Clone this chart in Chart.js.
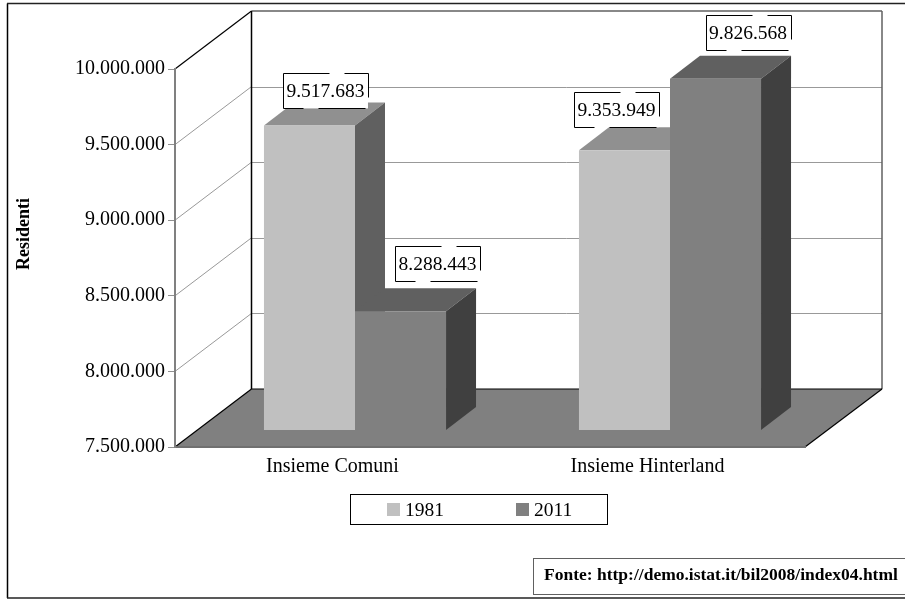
<!DOCTYPE html>
<html>
<head>
<meta charset="utf-8">
<title>Residenti</title>
<script src="https://cdn.jsdelivr.net/npm/chart.js@4"></script>
<style>
html, body { margin: 0; padding: 0; background: #fff; overflow: hidden; }
canvas { display: block; }
</style>
</head>
<body>
<canvas id="myChart" width="905" height="599"></canvas>
<script>
const categories = ['Insieme Comuni', 'Insieme Hinterland'];
const years = ['1981', '2011'];
const values1981 = [9517683, 9353949];
const values2011 = [8288443, 9826568];
const axisMin = 7500000;
const axisMax = 10000000;
const axisStep = 500000;
const sourceText = 'Fonte: http://demo.istat.it/bil2008/index04.html';
const axisTitle = 'Residenti';

const frontColors = ['#c0c0c0', '#808080'];
const topColors = ['#909090', '#606060'];
const sideColors = ['#606060', '#404040'];

const SERIF = '"Liberation Serif", "Times New Roman", serif';
const wallDepth = { x: 76.5, y: 58 };   // floor/wall depth
const barShift = { x: 22.5, y: 16.5 };  // bars stand inside the floor
const barDepth = { x: 30, y: 23 };
const wallRight = 882;
// hand placed label boxes, relative to the top left corner of each bar
const labelOffsets = [[[19, -52], [-5, -58]], [[40, -65], [35.5, -64]]];

function dots(v) {
    return String(v).replace(/\B(?=(\d{3})+$)/g, '.');
}

function line(ctx, x1, y1, x2, y2, color, width) {
    ctx.strokeStyle = color;
    ctx.lineWidth = width || 1;
    ctx.beginPath();
    ctx.moveTo(x1, y1);
    ctx.lineTo(x2, y2);
    ctx.stroke();
}

function poly(ctx, pts, color) {
    ctx.fillStyle = color;
    ctx.beginPath();
    pts.forEach((p, i) => { i ? ctx.lineTo(p[0], p[1]) : ctx.moveTo(p[0], p[1]); });
    ctx.closePath();
    ctx.fill();
}

function labelBox(ctx, x, y, text) {
    const w = 85, h = 35;
    ctx.fillStyle = '#fff';
    ctx.fillRect(x, y, w, h);
    const px = Math.round(x) + 0.5, py = Math.round(y) + 0.5;
    line(ctx, px, py, px, py + h, '#000');
    line(ctx, px + w, py, px + w, py + 24, '#000');
    line(ctx, px, py, px + 46, py, '#000');
    line(ctx, px + 61, py, px + w, py, '#000');
    line(ctx, px, py + h, px + 20, py + h, '#000');
    line(ctx, px + 35, py + h, px + 82, py + h, '#000');
    ctx.fillStyle = '#000';
    ctx.font = '19.5px ' + SERIF;
    ctx.textAlign = 'center';
    ctx.textBaseline = 'alphabetic';
    ctx.fillText(text, x + w / 2, y + 24);
}

const scene3d = {
    id: 'scene3d',
    // walls, floor and frame go behind the scales
    beforeDraw(chart) {
        const ctx = chart.ctx;
        const y = chart.scales.y;
        const a = chart.chartArea;
        const bx = a.left + wallDepth.x;
        ctx.save();
        ctx.fillStyle = '#fff';
        ctx.fillRect(0, 0, chart.width, chart.height);

        // outer frame
        line(ctx, 7.5, 3.5, 7.5, 598, '#000', 1.5);
        line(ctx, 7, 3.5, 905, 3.5, '#222', 1.5);
        line(ctx, 7, 598, 905, 598, '#222', 1.5);

        // floor
        poly(ctx, [[a.left, a.bottom], [bx, a.bottom - wallDepth.y], [wallRight, a.bottom - wallDepth.y], [a.right, a.bottom]], '#808080');

        // grid on side wall and back wall
        for (let v = axisMin + axisStep; v < axisMax; v += axisStep) {
            const py = y.getPixelForValue(v);
            line(ctx, a.left, py, bx, py - wallDepth.y, '#999');
            line(ctx, bx, Math.round(py - wallDepth.y) + 0.5, wallRight, Math.round(py - wallDepth.y) + 0.5, '#999');
        }
        const topY = a.top - wallDepth.y, floorY = a.bottom - wallDepth.y;
        line(ctx, bx, topY, wallRight, topY, '#606060', 1.5);
        line(ctx, wallRight, topY, wallRight, floorY, '#606060', 1.5);
        line(ctx, a.left, a.top, bx, topY, '#000', 1.2);
        line(ctx, bx, topY, bx, floorY, '#000', 1.5);
        line(ctx, bx, floorY, wallRight, floorY, '#000', 1.2);
        line(ctx, a.left, a.bottom, bx, floorY, '#000', 1.2);
        line(ctx, a.right, a.bottom, wallRight, floorY, '#000', 1.2);

        // axis title
        ctx.translate(24, 234);
        ctx.rotate(-Math.PI / 2);
        ctx.fillStyle = '#000';
        ctx.font = 'bold 18px ' + SERIF;
        ctx.textAlign = 'center';
        ctx.textBaseline = 'middle';
        ctx.fillText(axisTitle, 0, 0);
        ctx.restore();
    },
    // the library draws last dataset first, here 2011 has to sit over 1981
    beforeDatasetsDraw(chart) {
        const ctx = chart.ctx;
        ctx.save();
        ctx.translate(barShift.x, -barShift.y);
        chart.data.datasets.forEach((ds, i) => {
            const meta = chart.getDatasetMeta(i);
            meta.data.forEach((el) => {
                const x0 = el.x - el.width / 2, x1 = el.x + el.width / 2;
                const dx = barDepth.x, dy = barDepth.y;
                poly(ctx, [[x0, el.y], [x1, el.y], [x1 + dx, el.y - dy], [x0 + dx, el.y - dy]], topColors[i]);
                poly(ctx, [[x1, el.y], [x1 + dx, el.y - dy], [x1 + dx, el.base - dy], [x1, el.base]], sideColors[i]);
            });
            meta.controller.draw();
        });
        ctx.restore();
        return false;
    },
    afterDraw(chart) {
        const ctx = chart.ctx;
        ctx.save();
        chart.data.datasets.forEach((ds, i) => {
            chart.getDatasetMeta(i).data.forEach((el, j) => {
                const left = el.x - el.width / 2 + barShift.x;
                const top = el.y - barShift.y;
                labelBox(ctx, left + labelOffsets[i][j][0], top + labelOffsets[i][j][1], dots(ds.data[j]));
            });
        });

        // legend box
        ctx.fillStyle = '#fff';
        ctx.fillRect(350.5, 494.5, 257, 30);
        ctx.strokeStyle = '#000';
        ctx.lineWidth = 1;
        ctx.strokeRect(350.5, 494.5, 257, 30);
        ctx.font = '19.5px ' + SERIF;
        ctx.textAlign = 'left';
        ctx.textBaseline = 'alphabetic';
        [387, 516].forEach((x, i) => {
            ctx.fillStyle = chart.data.datasets[i].backgroundColor;
            ctx.fillRect(x, 503, 13, 13);
            ctx.fillStyle = '#000';
            ctx.fillText(chart.data.datasets[i].label, x + 18, 516);
        });

        // source box
        ctx.fillStyle = '#fff';
        ctx.fillRect(533.5, 558.5, 380, 36);
        ctx.strokeStyle = '#606060';
        ctx.strokeRect(533.5, 558.5, 380, 36);
        ctx.fillStyle = '#000';
        ctx.font = 'bold 17.5px ' + SERIF;
        ctx.fillText(sourceText, 544, 580);
        ctx.restore();
    }
};

const config = {
    type: 'bar',
    data: {
        labels: categories,
        datasets: [
            { label: years[0], data: values1981, backgroundColor: frontColors[0], base: axisMin },
            { label: years[1], data: values2011, backgroundColor: frontColors[1], base: axisMin }
        ]
    },
    options: {
        responsive: false,
        animation: false,
        categoryPercentage: 0.578,
        barPercentage: 1,
        layout: { padding: { left: 8, right: 100, top: 69, bottom: 0 } },
        plugins: { legend: { display: false }, tooltip: { enabled: false }, title: { display: false } },
        scales: {
            x: {
                afterFit: (scale) => { scale.height = 152; },
                grid: { display: true, drawOnChartArea: false, drawTicks: false },
                border: { color: '#707070', width: 2 },
                ticks: { color: '#000', font: { family: SERIF, size: 20 }, padding: 8, maxRotation: 0 }
            },
            y: {
                min: axisMin,
                max: axisMax,
                afterFit: (scale) => { scale.width = 167; },
                grid: { drawOnChartArea: false, drawTicks: true, tickLength: 7, color: '#909090' },
                border: { color: '#808080', width: 2 },
                ticks: {
                    stepSize: axisStep,
                    color: '#000',
                    padding: 3,
                    font: { family: SERIF, size: 20 },
                    callback: (v) => dots(v)
                }
            }
        }
    },
    plugins: [scene3d]
};

var myChart = new Chart(document.getElementById('myChart'), config);
</script>
</body>
</html>
